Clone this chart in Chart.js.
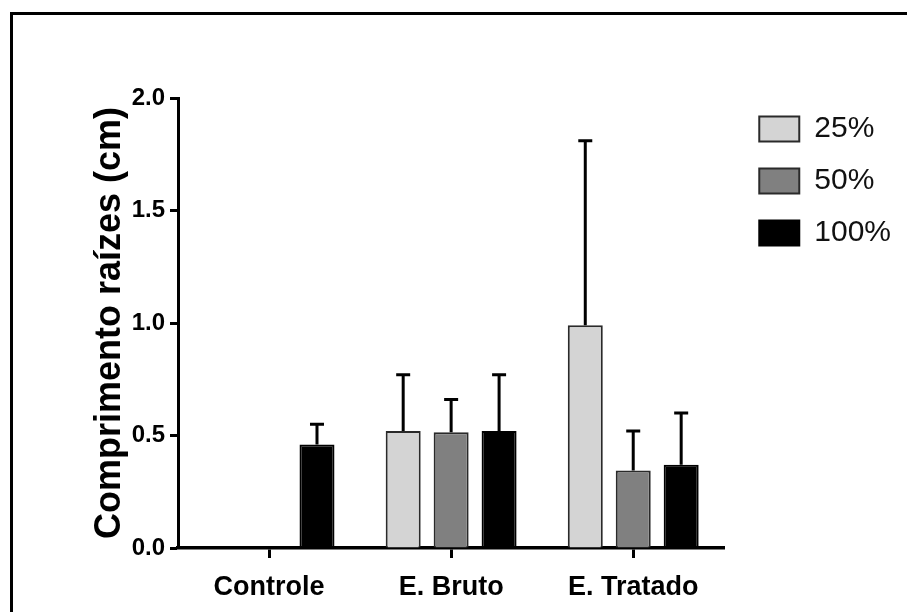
<!DOCTYPE html>
<html>
<head>
<meta charset="utf-8">
<title>Comprimento raízes</title>
<script src="https://cdn.jsdelivr.net/npm/chart.js@4.4.1/dist/chart.umd.min.js"></script>
<style>
    html, body { margin: 0; padding: 0; background: #fff; }
    #wrap { position: relative; width: 907px; height: 612px; overflow: hidden; }
    #chart { position: absolute; left: 0; top: 0; }
    #frame {
        position: absolute; left: 10px; top: 12px; width: 900px; height: 610px;
        border-top: 3px solid #000; border-left: 3px solid #000;
        pointer-events: none;
    }
</style>
</head>
<body>
<div id="wrap">
    <canvas id="chart" width="907" height="612"></canvas>
    <div id="frame"></div>
</div>
<script>
// Data
const categories = ['Controle', 'E. Bruto', 'E. Tratado'];
const seriesLabels = ['25%', '50%', '100%'];
const mean25 = [0, 0.52, 0.99];
const mean50 = [0, 0.515, 0.345];
const mean100 = [0.46, 0.52, 0.37];
// upper error (SD) per bar
const sd25 = [null, 0.25, 0.82];
const sd50 = [null, 0.145, 0.175];
const sd100 = [0.09, 0.25, 0.23];
const yTicks = [0, 0.5, 1.0, 1.5, 2.0];

const FONT = '"Liberation Sans", Arial, Helvetica, sans-serif';

// Draws the one-sided error bars (mean + SD) on top of each bar
const errorBars = {
    id: 'errorBars',
    afterDatasetsDraw(chart) {
        const ctx = chart.ctx;
        const y = chart.scales.y;
        chart.data.datasets.forEach((ds, i) => {
            const meta = chart.getDatasetMeta(i);
            meta.data.forEach((bar, j) => {
                const sd = ds.sd[j];
                if (sd == null) return;
                const top = y.getPixelForValue(ds.data[j] + sd);
                ctx.save();
                ctx.strokeStyle = '#000';
                ctx.lineWidth = 3;
                ctx.beginPath();
                ctx.moveTo(bar.x, bar.y);
                ctx.lineTo(bar.x, top);
                ctx.moveTo(bar.x - 7, top);
                ctx.lineTo(bar.x + 7, top);
                ctx.stroke();
                ctx.restore();
            });
        });
    }
};

const ctx = document.getElementById('chart').getContext('2d');
new Chart(ctx, {
    type: 'bar',
    data: {
        labels: categories,
        datasets: [
            {
                label: seriesLabels[0], data: mean25, sd: sd25,
                backgroundColor: '#d4d4d4', borderColor: '#2a2a2a', borderWidth: 2,
            },
            {
                label: seriesLabels[1], data: mean50, sd: sd50,
                backgroundColor: '#808080', borderColor: '#2a2a2a', borderWidth: 2,
            },
            {
                label: seriesLabels[2], data: mean100, sd: sd100,
                backgroundColor: '#000000', borderColor: '#000000', borderWidth: 2,
            },
        ],
    },
    options: {
        responsive: false,
        animation: false,
        devicePixelRatio: 1,
        categoryPercentage: 0.79,
        barPercentage: 0.73,
        layout: {
            padding: { left: 84, top: 92, right: 6, bottom: 0 },
        },
        plugins: {
            tooltip: { enabled: false },
            // empty spacer above the plot only (legend starts a bit higher)
            title: {
                display: true,
                text: '',
                fullSize: false,
                padding: 0,
                font: { size: 5 },
            },
            legend: {
                position: 'right',
                align: 'start',
                maxWidth: 220,
                labels: {
                    boxWidth: 40,
                    boxHeight: 25,
                    padding: 22,
                    color: '#111',
                    font: { family: FONT, size: 30 },
                },
            },
        },
        scales: {
            x: {
                grid: {
                    offset: false,
                    drawOnChartArea: false,
                    tickLength: 10,
                    tickWidth: 3,
                    tickColor: '#000',
                },
                border: { color: '#000', width: 3.5 },
                ticks: {
                    padding: 13,
                    color: '#000',
                    font: { family: FONT, size: 27, weight: 'bold' },
                },
                afterFit(scale) { scale.height = 64; },
            },
            y: {
                min: 0,
                max: 2,
                afterBuildTicks(scale) {
                    scale.ticks = yTicks.map(v => ({ value: v }));
                },
                grid: {
                    drawOnChartArea: false,
                    tickLength: 8,
                    tickWidth: 3,
                    tickColor: '#000',
                },
                border: { color: '#000', width: 3 },
                ticks: {
                    padding: 5,
                    color: '#000',
                    font: { family: FONT, size: 24, weight: 'bold' },
                    callback: v => Number(v).toFixed(1),
                },
                title: {
                    display: true,
                    text: 'Comprimento raízes (cm)',
                    color: '#000',
                    padding: { top: 4, bottom: 4 },
                    font: { family: FONT, size: 36, weight: 'bold' },
                },
                afterFit(scale) { scale.width = 94; },
            },
            // empty spacer between plot and legend
            gap: {
                type: 'linear',
                position: 'right',
                display: true,
                grid: { display: false, drawTicks: false },
                border: { display: false },
                ticks: { display: false },
                afterFit(scale) { scale.width = 13; },
            },
        },
    },
    plugins: [errorBars],
});
</script>
</body>
</html>
